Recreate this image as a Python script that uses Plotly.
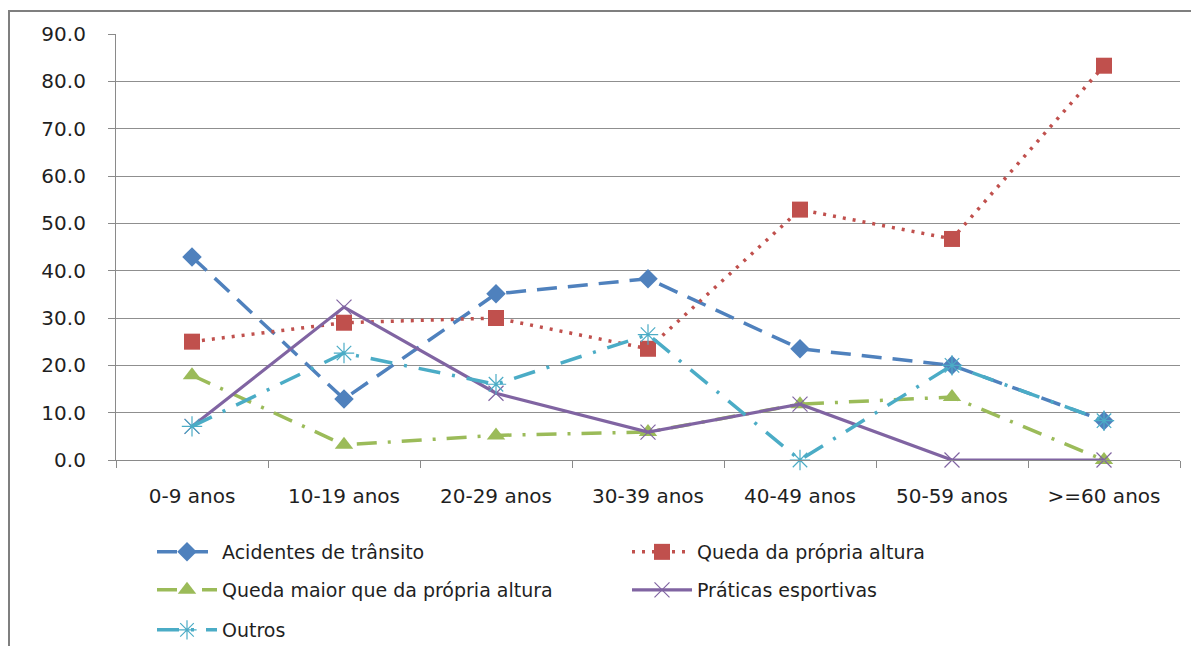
import plotly.graph_objects as go

categories = ["0-9 anos", "10-19 anos", "20-29 anos", "30-39 anos", "40-49 anos", "50-59 anos", ">=60 anos"]
acidentes = [42.9, 12.9, 35.1, 38.3, 23.5, 20.0, 8.3]
queda_propria = [25.0, 29.0, 30.0, 23.5, 52.9, 46.7, 83.3]
queda_maior = [17.9, 3.2, 5.2, 5.9, 11.8, 13.3, 0.0]
praticas = [7.1, 32.3, 14.1, 5.9, 11.8, 0.0, 0.0]
outros = [7.1, 22.6, 16.0, 26.5, 0.0, 20.0, 8.3]
y_ticks = [0, 10, 20, 30, 40, 50, 60, 70, 80, 90]

FONT = "DejaVu Sans"
TXT = "#1f1f1f"
series = [
    ("Acidentes de trânsito", acidentes, "#4F81BD", "20px,11px", dict(symbol="diamond", size=15), 3.5, "legend"),
    ("Queda da própria altura", queda_propria, "#C0504D", "3px,7px", dict(symbol="square", size=16), 3.5, "legend2"),
    ("Queda maior que da própria altura", queda_maior, "#9BBB59", "20px,11px,3px,11px", dict(symbol="triangle-up", size=16), 3.5, "legend3"),
    ("Práticas esportivas", praticas, "#8064A2", None, dict(symbol="x-thin-open", size=15, line=dict(width=1.2, color="#A58FC7")), 3.2, "legend4"),
    ("Outros", outros, "#4BACC6", "22px,12px,3px,12px", dict(symbol="asterisk-open", size=17, line=dict(width=1.2, color="#4BACC6")), 3.5, "legend5"),
]

fig = go.Figure()
for name, vals, color, dash, marker, lw, leg in series:
    m = dict(color=color, **marker)
    fig.add_trace(go.Scatter(
        x=categories, y=vals, name=name, mode="lines+markers",
        line=dict(color=color, width=lw, dash=dash if dash else "solid"),
        marker=m, cliponaxis=False, legend=leg,
    ))

# page body has an 8px margin on every side, so the figure is sized to fit the 1199x654 window
W, H = 1191, 638
L, R, T, B = 108, 19, 26, 186
pw, ph = W - L - R, H - T - B

def px_to_paper_x(px):
    return (px - L) / pw

def px_to_paper_y(py):
    return (H - B - py) / ph

legend_common = dict(font=dict(family=FONT, size=19, color=TXT), bgcolor="rgba(0,0,0,0)",
                     xanchor="left", yanchor="middle", itemwidth=60)
legend_pos = {
    "legend": (144, 544),
    "legend2": (619, 544),
    "legend3": (144, 582),
    "legend4": (619, 582),
    "legend5": (144, 622),
}
layout_legends = {}
for k, (lx, ly) in legend_pos.items():
    layout_legends[k] = dict(x=px_to_paper_x(lx), y=px_to_paper_y(ly), **legend_common)

fig.update_layout(
    width=W, height=H,
    margin=dict(l=L, r=R, t=T, b=B, autoexpand=False),
    paper_bgcolor="white", plot_bgcolor="white",
    font=dict(family=FONT, size=18, color=TXT),
    showlegend=True,
    xaxis=dict(
        type="category", tickson="boundaries", ticks="outside", ticklen=7,
        tickcolor="#8a8a8a", showline=True, linecolor="#8a8a8a", linewidth=1.2,
        showgrid=False, tickfont=dict(family=FONT, size=20, color=TXT),
        range=[-0.5, 6.5], ticklabelstandoff=18,
    ),
    yaxis=dict(
        range=[0, 90], tickvals=y_ticks, tickformat=".1f", ticks="outside", ticklen=7,
        tickcolor="#8a8a8a", showline=True, linecolor="#8a8a8a", linewidth=1.2,
        showgrid=True, gridcolor="#8f8f8f", gridwidth=1, zeroline=False,
        tickfont=dict(family=FONT, size=20, color=TXT), ticklabelstandoff=18,
    ),
    shapes=[dict(type="rect", xref="paper", yref="paper",
                 x0=px_to_paper_x(1), x1=px_to_paper_x(1300),
                 y0=px_to_paper_y(760), y1=px_to_paper_y(3),
                 line=dict(color="#7f7f7f", width=2), layer="below")],
    **layout_legends,
)

fig.write_html("out.html")
